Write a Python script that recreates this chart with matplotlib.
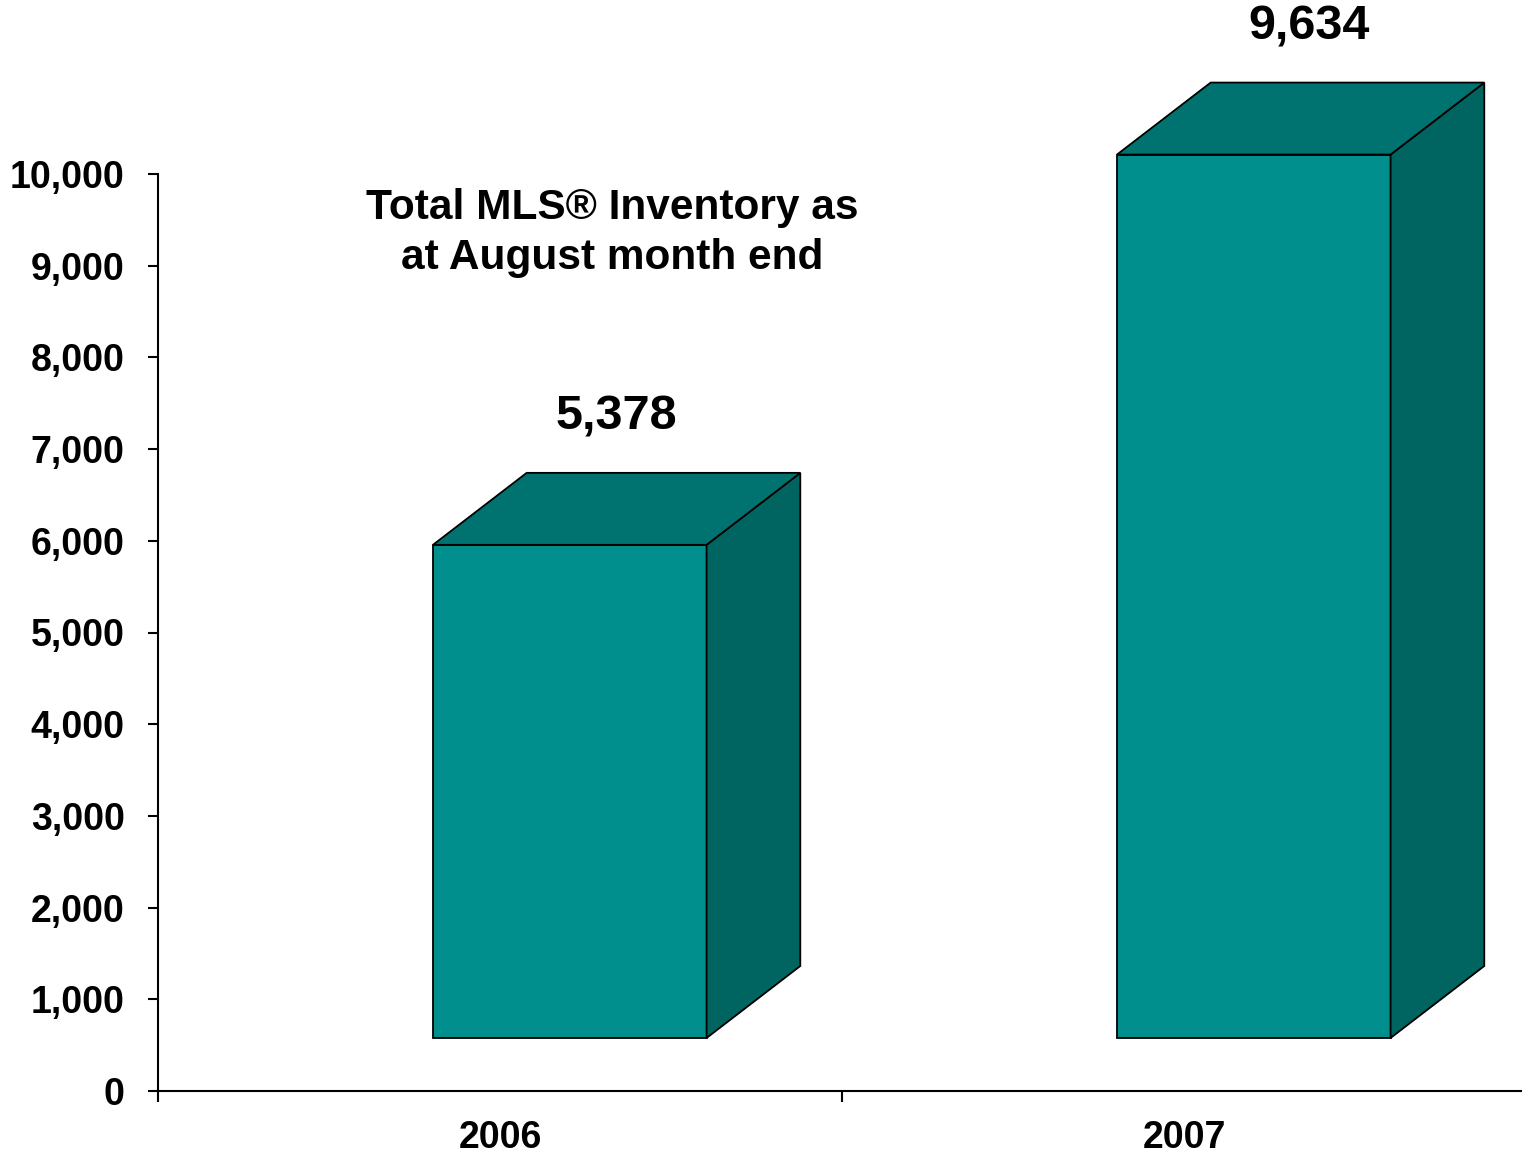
import numpy as np
import matplotlib
matplotlib.use('Agg')
from matplotlib import pyplot as plt
from matplotlib.patches import Polygon

plt.rcParams['font.family'] = ['Liberation Sans', 'DejaVu Sans']
plt.rcParams['font.weight'] = 'bold'

# data
years = ['2006', '2007']
inventory = [5378, 9634]
value_labels = ['5,378', '9,634']
label_nudge = [0, 6]  # points
yticks = np.arange(0, 10001, 1000)

# 3d look (data units)
BAR_LEFT = 0.402
BAR_WIDTH = 0.40
DEPTH_X = 0.137
DEPTH_Y = 785.
BASE = 578.
FRONT = '#008f8c'
TOP = '#007370'
SIDE = '#006461'

fig = plt.figure(figsize=(15.22, 11.67), dpi=100)
ax = fig.add_axes([158/1522, 1 - 1091/1167, 1368/1522, (1091 - 174)/1167])
ax.set_xlim(0, 2)
ax.set_ylim(0, 10000)

for i, (val, lab) in enumerate(zip(inventory, value_labels)):
    x0 = i + BAR_LEFT
    x1 = x0 + BAR_WIDTH
    y0 = BASE
    y1 = BASE + val
    front = [(x0, y0), (x1, y0), (x1, y1), (x0, y1)]
    top = [(x0, y1), (x1, y1), (x1 + DEPTH_X, y1 + DEPTH_Y), (x0 + DEPTH_X, y1 + DEPTH_Y)]
    side = [(x1, y0), (x1 + DEPTH_X, y0 + DEPTH_Y), (x1 + DEPTH_X, y1 + DEPTH_Y), (x1, y1)]
    for pts, c in ((front, FRONT), (side, SIDE), (top, TOP)):
        ax.add_patch(Polygon(pts, closed=True, facecolor=c, edgecolor='k',
                             linewidth=1.3, clip_on=False, zorder=3))
    ax.annotate(lab, xy=((x0 + x1 + DEPTH_X) / 2., y1 + DEPTH_Y), xytext=(label_nudge[i], 31),
                textcoords='offset points', ha='center', va='baseline',
                fontsize=35, fontweight='bold', annotation_clip=False)

ax.set_yticks(yticks)
ax.set_yticklabels(['{:,}'.format(v) for v in yticks])
ax.set_xticks([0, 1, 2])
ax.set_xticklabels([])
ax.set_xticks([0.5, 1.5], minor=True)
ax.set_xticklabels(years, minor=True)
ax.tick_params(axis='x', which='minor', length=0, pad=21, labelsize=27)
ax.tick_params(axis='x', which='major', length=8, width=1.5, direction='out')
ax.tick_params(axis='y', length=7, width=1.5, pad=17, labelsize=27)
for s in ('top', 'right'):
    ax.spines[s].set_visible(False)
for s in ('left', 'bottom'):
    ax.spines[s].set_linewidth(1.5)

fig.text(612/1522, 1 - 233/1167, 'Total MLS® Inventory as\nat August month end',
         ha='center', va='center', fontsize=30.5, fontweight='bold', linespacing=1.3)

fig.savefig('out.png', dpi=100)
